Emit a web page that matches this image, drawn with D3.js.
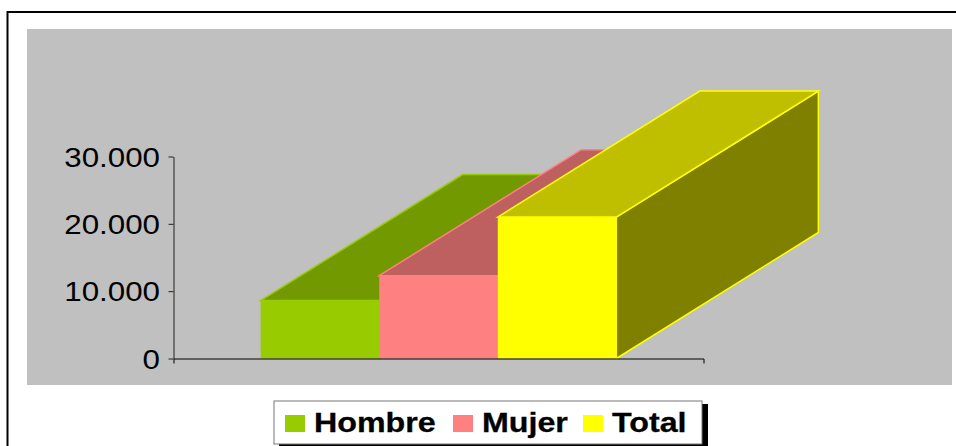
<!DOCTYPE html>
<html>
<head>
<meta charset="utf-8">
<script src="https://d3js.org/d3.v7.min.js"></script>
<style>
body { margin: 0; background: #fff; overflow: hidden; }
text { font-family: "Liberation Sans", Arial, sans-serif; }
</style>
</head>
<body>
<script>
var series = ["Hombre", "Mujer", "Total"];
var values = [8600, 12300, 21000];
var colors = ["#99cc00", "#ff8080", "#ffff00"];
var topColors = ["#739900", "#bf6060", "#bfbf00"];
var sideColors = ["#4d6600", "#804040", "#808000"];
var yTicks = [0, 10000, 20000, 30000];

var width = 956, height = 446;
var tickStretch = 1.16, legendStretch = 1.15; // text in the original is wider than tall
var depthX = 202, depthY = -126;

var svg = d3.select("body").append("svg")
    .attr("width", width)
    .attr("height", height)
    .style("display", "block");

// outer frame
svg.append("path")
    .attr("d", "M7.5," + height + "V12H" + width)
    .attr("fill", "none")
    .attr("stroke", "#000")
    .attr("stroke-width", 2);

// plot background
svg.append("rect")
    .attr("x", 27)
    .attr("y", 29)
    .attr("width", 925)
    .attr("height", 356)
    .attr("fill", "#c0c0c0");

var x = d3.scaleBand()
    .domain(series)
    .range([173.5, 703.5])
    .paddingInner(0)
    .paddingOuter(0.735);

var y = d3.scaleLinear()
    .domain([0, 30000])
    .range([358.5, 156.5]);

var locale = d3.formatLocale({decimal: ",", thousands: ".", grouping: [3], currency: ["", ""]});

var bars = svg.append("g").selectAll("g")
    .data(series)
    .enter().append("g");

function facePath(pts) {
    return d3.line()(pts) + "Z";
}

// side face
bars.append("path")
    .attr("d", function(d, i) {
        var x1 = x(d) + x.bandwidth(), y0 = y(0), y1 = y(values[i]);
        return facePath([[x1, y0], [x1 + depthX, y0 + depthY], [x1 + depthX, y1 + depthY], [x1, y1]]);
    })
    .attr("fill", function(d, i) { return sideColors[i]; })
    .attr("stroke", function(d, i) { return colors[i]; })
    .attr("stroke-width", 1.5);

// top face
bars.append("path")
    .attr("d", function(d, i) {
        var x0 = x(d), x1 = x0 + x.bandwidth(), y1 = y(values[i]);
        return facePath([[x0, y1], [x0 + depthX, y1 + depthY], [x1 + depthX, y1 + depthY], [x1, y1]]);
    })
    .attr("fill", function(d, i) { return topColors[i]; })
    .attr("stroke", function(d, i) { return colors[i]; })
    .attr("stroke-width", 1.5);

// front face
bars.append("rect")
    .attr("x", function(d) { return x(d); })
    .attr("y", function(d, i) { return y(values[i]); })
    .attr("width", x.bandwidth())
    .attr("height", function(d, i) { return y(0) - y(values[i]); })
    .attr("fill", function(d, i) { return colors[i]; });

var yAxis = d3.axisLeft(y)
    .tickValues(yTicks)
    .tickFormat(locale.format(",d"))
    .tickSize(5)
    .tickSizeOuter(0);

var gy = svg.append("g")
    .attr("transform", "translate(173.5,0)")
    .call(yAxis);
gy.select(".domain").attr("stroke", "#222");
gy.selectAll(".tick line").attr("stroke", "#222");
gy.selectAll("text")
    .attr("font-size", 27)
    .attr("fill", "#000")
    .attr("x", -13.5 / tickStretch)
    .attr("dy", "0.36em")
    .attr("transform", "scale(" + tickStretch + ",1)")
    .style("font-family", "'Liberation Sans', Arial, sans-serif");

var xAxis = d3.axisBottom(x)
    .tickValues([])
    .tickSizeOuter(5);

var gx = svg.append("g")
    .attr("transform", "translate(0,358.5)")
    .call(xAxis);
gx.select(".domain").attr("stroke", "#000");

// legend
var legendX = [285, 453, 583];

svg.append("rect")
    .attr("x", 279)
    .attr("y", 404)
    .attr("width", 429)
    .attr("height", 46)
    .attr("fill", "#000");
svg.append("rect")
    .attr("x", 274)
    .attr("y", 401)
    .attr("width", 428)
    .attr("height", 43)
    .attr("fill", "#fff")
    .attr("stroke", "#777")
    .attr("stroke-width", 1);

var legend = svg.append("g").selectAll("g")
    .data(series)
    .enter().append("g")
    .attr("transform", function(d, i) { return "translate(" + legendX[i] + ",0)"; });

legend.append("rect")
    .attr("y", 415)
    .attr("width", 20)
    .attr("height", 17)
    .attr("fill", function(d, i) { return colors[i]; });

legend.append("text")
    .text(function(d) { return d; })
    .attr("x", 29 / legendStretch)
    .attr("y", 432)
    .attr("transform", "scale(" + legendStretch + ",1)")
    .attr("font-size", 28)
    .attr("font-weight", "bold")
    .attr("fill", "#000")
    .attr("stroke", "#000")
    .attr("stroke-width", 0.3);
</script>
</body>
</html>
